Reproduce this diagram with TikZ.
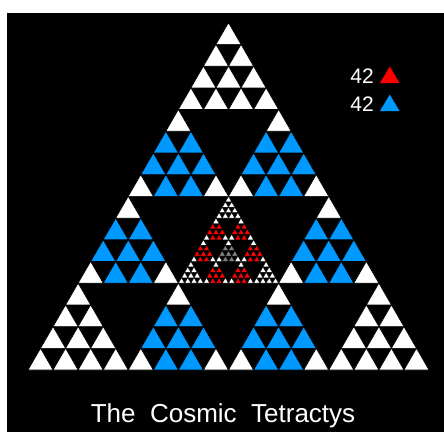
\documentclass[tikz,border=0pt]{standalone}
\usepackage{fontspec}
\setmainfont{Liberation Sans}
\definecolor{tblue}{RGB}{0,153,255}
\definecolor{tred}{RGB}{255,0,0}
\definecolor{tgrey}{RGB}{128,128,128}
% \tetra{X}{Y}{side}{corner colour}{other colour}{line width}
\newcommand{\tetra}[6]{%
  \foreach \r in {0,...,3}{\foreach \k in {0,...,\r}{%
    \pgfmathsetmacro\tx{#1+(3-\r)*#3/2+\k*#3}%
    \pgfmathsetmacro\ty{#2-(3-\r)*0.8660254*#3}%
    \pgfmathtruncatemacro\iscorner{(\r==0)||((\r==3)&&(\k==0))||((\r==3)&&(\k==3))}%
    \ifnum\iscorner=1 \def\tc{#4}\else\def\tc{#5}\fi
    \fill[\tc,draw=black,line width=#6] (\tx,\ty) -- ++(#3,0) -- ++(-#3/2,-0.8660254*#3) -- cycle;
  }}}
\begin{document}
\begin{tikzpicture}[x=1pt,y=-1pt]
\useasboundingbox (0,0) rectangle (444,432);
\fill[white] (0,0) rectangle (444,432);
\fill[black] (7,13) rectangle (444,432);
% level-1 tetractys
\foreach \R in {0,...,3}{\foreach \K in {0,...,\R}{%
  \pgfmathsetmacro\bx{28+(3-\R)*50.125+\K*100.25}%
  \pgfmathsetmacro\by{370-(3-\R)*86.8188}%
  \pgfmathtruncatemacro\ctype{((\R==0)||((\R==3)&&(\K==0))||((\R==3)&&(\K==3))) ? 1 : (((\R==2)&&(\K==1)) ? 2 : 0)}%
  \ifnum\ctype=1
    \tetra{\bx}{\by}{25.0625}{white}{white}{0.6pt}
  \else\ifnum\ctype=0
    \tetra{\bx}{\by}{25.0625}{white}{tblue}{0.6pt}
  \else
    \foreach \Ra in {0,...,3}{\foreach \Ka in {0,...,\Ra}{%
      \pgfmathsetmacro\cx{\bx+(3-\Ra)*12.53125+\Ka*25.0625}%
      \pgfmathsetmacro\cy{\by-(3-\Ra)*21.7047}%
      \pgfmathtruncatemacro\dtype{((\Ra==0)||((\Ra==3)&&(\Ka==0))||((\Ra==3)&&(\Ka==3))) ? 1 : (((\Ra==2)&&(\Ka==1)) ? 2 : 0)}%
      \ifnum\dtype=1
        \tetra{\cx}{\cy}{6.265625}{white}{white}{0.4pt}
      \else\ifnum\dtype=0
        \tetra{\cx}{\cy}{6.265625}{white}{tred}{0.4pt}
      \else
        \tetra{\cx}{\cy}{6.265625}{white}{tgrey}{0.4pt}
      \fi\fi
    }}
  \fi\fi
}}
% legend
\node[anchor=base east,text=white,font=\fontsize{21}{24}\selectfont,inner sep=0pt] (n1) at (374,83.5) {42};
\node[anchor=base east,text=white,font=\fontsize{21}{24}\selectfont,inner sep=0pt] (n2) at (374,111.5) {42};
\fill[tred] (380,83) -- (399.5,83) -- (389.75,66.5) -- cycle;
\fill[tblue] (380,111) -- (399.5,111) -- (389.75,94.5) -- cycle;
% title
\node[anchor=base,text=white,font=\fontsize{26}{30}\selectfont,inner sep=0pt] (title) at (223,422.5) {The\hspace{0.556em}Cosmic\hspace{0.556em}Tetractys};
\end{tikzpicture}
\end{document}
